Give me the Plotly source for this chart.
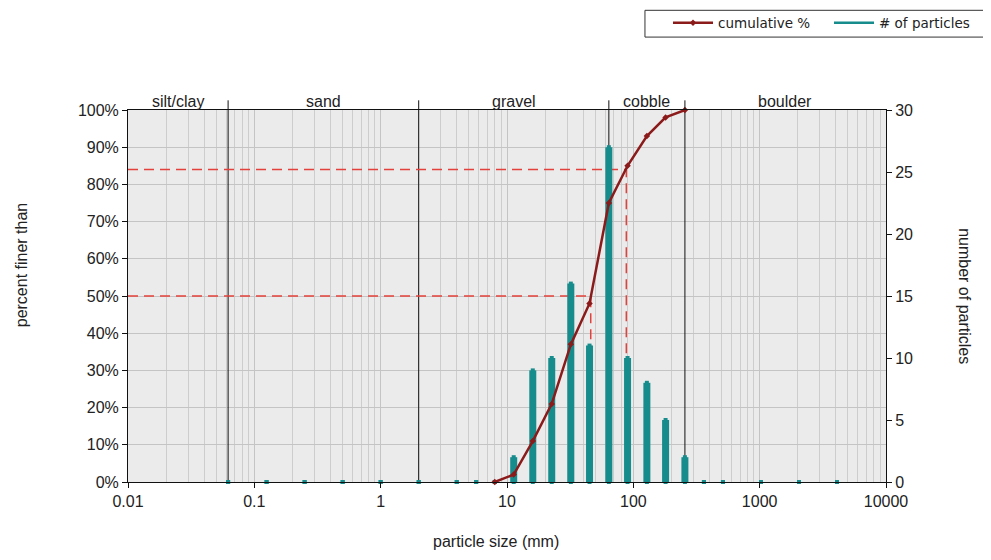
import math
import plotly.graph_objects as go

# ---- data ----
sizes = [0.062, 0.125, 0.25, 0.5, 1, 2, 4, 5.7, 8, 11.3, 16, 22.6, 32, 45, 64,
         90, 128, 180, 256, 362, 512, 1024, 2048, 4096]
counts = [0, 0, 0, 0, 0, 0, 0, 0, 0, 2, 9, 10, 16, 11, 27,
          10, 8, 5, 2, 0, 0, 0, 0, 0]
cum_sizes = [8, 11.3, 16, 22.6, 32, 45, 64, 90, 128, 180, 256]
cum_pct = [0, 2, 11, 21, 37, 48, 75, 85, 93, 98, 100]
d_pct = [50, 84]
d_size = [46, 88]
class_names = ["silt/clay", "sand", "gravel", "cobble", "boulder"]
class_bounds = [0.01, 0.062, 2, 64, 256, 10000]
x_ticks = [0.01, 0.1, 1, 10, 100, 1000, 10000]
x_ticklabels = ["0.01", "0.1", "1", "10", "100", "1000", "10000"]

FONT = "Liberation Sans, Arial, sans-serif"
LEGFONT = "DejaVu Sans, sans-serif"
TEAL = "#178c8c"
DARKRED = "#8b1a1a"
DASHRED = "#e3413b"
XMIN, XMAX = math.log10(class_bounds[0]), math.log10(class_bounds[-1])


def paper_x(v):
    return (math.log10(v) - XMIN) / (XMAX - XMIN)


fig = go.Figure()

# class divider lines inside plot
inner = class_bounds[1:-1]
dx, dy = [], []
for b in inner:
    dx += [b, b, None]
    dy += [0, 100, None]
fig.add_trace(go.Scatter(x=dx, y=dy, mode="lines", line=dict(color="#111111", width=1),
                         showlegend=False, hoverinfo="skip", xaxis="x", yaxis="y"))

# D50 / D84 dashed guides
gx, gy = [], []
for p, s in zip(d_pct, d_size):
    gx += [class_bounds[0], s, s, None]
    gy += [p, p, 0, None]
fig.add_trace(go.Scatter(x=gx, y=gy, mode="lines",
                         line=dict(color=DASHRED, width=1.5, dash="10px,6px"),
                         showlegend=False, hoverinfo="skip", xaxis="x", yaxis="y"))

# particle counts as thin bars
bx, by = [], []
for s, c in zip(sizes, counts):
    bx += [s, s, None]
    by += [0, c, None]
fig.add_trace(go.Scatter(x=bx, y=by, mode="lines+markers", name="# of particles",
                         line=dict(color=TEAL, width=7),
                         marker=dict(color=TEAL, size=4, symbol="square"),
                         cliponaxis=False, showlegend=False,
                         xaxis="x", yaxis="y2"))

# cumulative curve
fig.add_trace(go.Scatter(x=cum_sizes, y=cum_pct, mode="lines+markers", name="cumulative %",
                         line=dict(color=DARKRED, width=2.5),
                         marker=dict(color=DARKRED, size=5, symbol="diamond"),
                         cliponaxis=False, legendrank=1,
                         xaxis="x", yaxis="y3"))

# legend-only entry for the counts (thin line symbol)
fig.add_trace(go.Scatter(x=[None], y=[None], mode="lines", name="# of particles",
                         line=dict(color=TEAL, width=2.5), legendrank=2,
                         xaxis="x", yaxis="y2"))

shapes = []
for b in inner:
    shapes.append(dict(type="line", xref="paper", yref="paper",
                       x0=paper_x(b), x1=paper_x(b), y0=1, y1=1.026,
                       line=dict(color="#111111", width=1)))
# legend frame
shapes.append(dict(type="rect", xref="paper", yref="paper",
                   x0=0.682, x1=1.135, y0=1.196, y1=1.268,
                   line=dict(color="#333333", width=1), fillcolor="white", layer="below"))

annotations = []
for i, name in enumerate(class_names):
    lo, hi = math.log10(class_bounds[i]), math.log10(class_bounds[i + 1])
    annotations.append(dict(text=name, xref="paper", yref="paper",
                            x=((lo + hi) / 2 - XMIN) / (XMAX - XMIN), y=1.0,
                            xanchor="center", yanchor="bottom", showarrow=False,
                            font=dict(size=16, color="#222222", family=FONT), yshift=-2))

annotations += [
    dict(text="percent finer than", xref="paper", yref="paper", x=-0.14, y=0.585,
         textangle=-90, showarrow=False, font=dict(size=16, color="#222222", family=FONT),
         xanchor="center", yanchor="middle"),
    dict(text="number of particles", xref="paper", yref="paper", x=1.104, y=0.5,
         textangle=90, showarrow=False, font=dict(size=16, color="#222222", family=FONT),
         xanchor="center", yanchor="middle"),
    dict(text="particle size (mm)", xref="paper", yref="paper", x=0.485, y=-0.159,
         showarrow=False, font=dict(size=16, color="#222222", family=FONT),
         xanchor="center", yanchor="middle"),
]

minor_vals = [k * 10 ** n for n in range(-2, 4) for k in range(2, 10)]

fig.update_layout(
    width=983, height=552,
    margin=dict(l=120, r=105, t=102, b=78, autoexpand=False),
    paper_bgcolor="white", plot_bgcolor="#ebebeb",
    font=dict(family=FONT, size=16, color="#222222"),
    xaxis=dict(type="log", range=[XMIN, XMAX], tickmode="array", tickvals=x_ticks,
               ticktext=x_ticklabels, showgrid=True, gridcolor="#c4c4c4", gridwidth=1,
               minor=dict(tickmode="array", tickvals=minor_vals, showgrid=True,
                          gridcolor="#cdcdcd", gridwidth=1, ticks=""),
               showline=True, linecolor="#111111", linewidth=1, mirror=True,
               ticks="outside", ticklen=5, tickcolor="#111111", zeroline=False,
               tickfont=dict(size=16)),
    yaxis=dict(range=[0, 100], dtick=10, ticksuffix="%", showgrid=True,
               gridcolor="#c4c4c4", gridwidth=1, showline=True, linecolor="#111111",
               ticks="outside", ticklen=5, tickcolor="#111111", zeroline=False,
               tickfont=dict(size=16)),
    yaxis2=dict(range=[0, 30], dtick=5, overlaying="y", side="right", showgrid=False,
                showline=True, linecolor="#111111", ticks="outside", ticklen=5,
                tickcolor="#111111", zeroline=False, tickfont=dict(size=16)),
    yaxis3=dict(range=[0, 100], overlaying="y", visible=False),
    legend=dict(orientation="h", x=0.7124, xanchor="left", y=1.234, yanchor="middle",
                borderwidth=0, bgcolor="rgba(0,0,0,0)",
                font=dict(size=13.5, family=LEGFONT, color="#222222"),
                itemwidth=40, entrywidth=106, traceorder="normal"),
    shapes=shapes,
    annotations=annotations,
    showlegend=True,
)

fig.write_html("out.html")
